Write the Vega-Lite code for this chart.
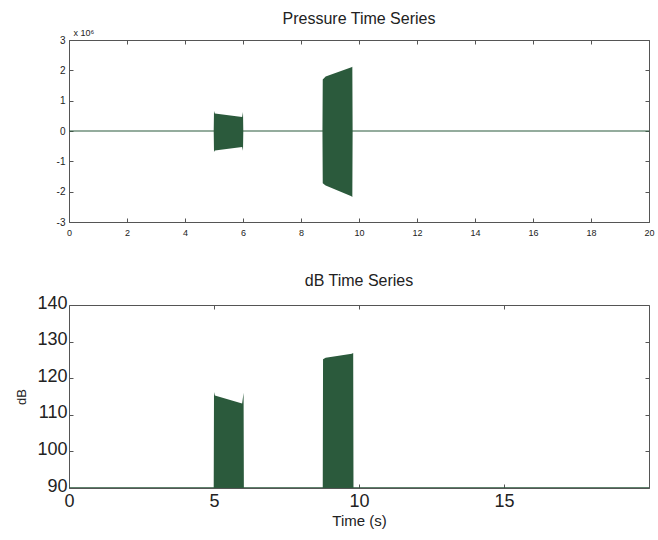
{
  "$schema": "https://vega.github.io/schema/vega-lite/v6.json",
  "padding": {"left": 15, "top": 11, "right": 8, "bottom": 3},
  "background": "white",
  "config": {
    "font": "Liberation Sans",
    "view": {"stroke": null},
    "axis": {"grid": false, "domainColor": "#555555", "tickColor": "#555555", "labelColor": "#222222", "titleColor": "#222222", "titleFontWeight": "normal", "labelFont": "Liberation Sans", "titleFont": "Liberation Sans"},
    "title": {"font": "Liberation Sans", "fontWeight": "normal", "color": "#222222"}
  },
  "datasets": {
    "pressure": [
      {"t": 0, "hi": 20000, "lo": -20000},
      {"t": 4.99, "hi": 20000, "lo": -20000},
      {"t": 5.0, "hi": 660000, "lo": -690000},
      {"t": 5.03, "hi": 580000, "lo": -640000},
      {"t": 5.97, "hi": 460000, "lo": -530000},
      {"t": 6.0, "hi": 630000, "lo": -650000},
      {"t": 6.01, "hi": 20000, "lo": -20000},
      {"t": 8.74, "hi": 20000, "lo": -20000},
      {"t": 8.75, "hi": 1700000, "lo": -1720000},
      {"t": 8.85, "hi": 1800000, "lo": -1800000},
      {"t": 9.74, "hi": 2100000, "lo": -2150000},
      {"t": 9.77, "hi": 2120000, "lo": -2180000},
      {"t": 9.78, "hi": 20000, "lo": -20000},
      {"t": 20, "hi": 20000, "lo": -20000}
    ],
    "db": [
      {"t": 0, "db": 90.2},
      {"t": 4.99, "db": 90.2},
      {"t": 5.0, "db": 116.2},
      {"t": 5.03, "db": 115.3},
      {"t": 5.97, "db": 113.1},
      {"t": 6.02, "db": 116.0},
      {"t": 6.03, "db": 90.2},
      {"t": 8.75, "db": 90.2},
      {"t": 8.76, "db": 125.2},
      {"t": 8.85, "db": 125.6},
      {"t": 9.75, "db": 126.7},
      {"t": 9.8, "db": 126.9},
      {"t": 9.81, "db": 90.2},
      {"t": 20, "db": 90.2}
    ]
  },
  "bounds": "flush",
  "spacing": 83,
  "vconcat": [
    {
      "title": {"text": "Pressure Time Series", "fontSize": 16, "offset": 1},
      "width": 580,
      "height": 182,
      "data": {"name": "pressure"},
      "layer": [
        {
          "mark": {"type": "area", "color": "#2b5a3c"},
          "encoding": {
            "x": {"field": "t", "type": "quantitative", "scale": {"domain": [0, 20], "nice": false, "zero": false},
              "axis": {"orient": "bottom", "values": [0, 2, 4, 6, 8, 10, 12, 14, 16, 18, 20], "labelFontSize": 9, "tickSize": -4, "labelPadding": 10, "title": null, "labelFlush": false}},
            "y": {"field": "hi", "type": "quantitative", "scale": {"domain": [-3000000, 3000000], "nice": false},
              "axis": {"orient": "left", "values": [-3000000, -2000000, -1000000, 0, 1000000, 2000000, 3000000], "labelExpr": "replace(format(datum.value/1000000, 'd'), '\u2212', '-')", "labelFontSize": 10, "tickSize": -4, "labelPadding": 8,
                "title": "x 10\u2076", "titleAngle": 0, "titleAlign": "left", "titleBaseline": "bottom", "titleX": 4, "titleY": -3, "titleFontSize": 9}},
            "y2": {"field": "lo"}
          }
        },
        {
          "mark": {"type": "area", "opacity": 0},
          "encoding": {
            "x": {"field": "t", "type": "quantitative",
              "axis": {"orient": "top", "values": [0, 2, 4, 6, 8, 10, 12, 14, 16, 18, 20], "labels": false, "tickSize": -4, "title": null}},
            "y": {"field": "hi", "type": "quantitative",
              "axis": {"orient": "right", "values": [-3000000, -2000000, -1000000, 0, 1000000, 2000000, 3000000], "labels": false, "tickSize": -4, "title": null}},
            "y2": {"field": "lo"}
          }
        }
      ],
      "resolve": {"axis": {"x": "independent", "y": "independent"}}
    },
    {
      "title": {"text": "dB Time Series", "fontSize": 16, "offset": 5},
      "width": 580,
      "height": 183,
      "data": {"name": "db"},
      "layer": [
        {
          "mark": {"type": "area", "color": "#2b5a3c", "clip": true},
          "encoding": {
            "x": {"field": "t", "type": "quantitative", "scale": {"domain": [0, 20], "nice": false, "zero": false},
              "axis": {"orient": "bottom", "values": [0, 5, 10, 15], "labelFontSize": 18, "tickSize": -4, "labelPadding": 8, "title": "Time (s)", "titleFontSize": 15, "titlePadding": 3, "labelFlush": false}},
            "y": {"field": "db", "type": "quantitative", "scale": {"domain": [90, 140], "nice": false, "zero": false},
              "axis": {"orient": "left", "values": [90, 100, 110, 120, 130, 140], "labelFontSize": 18, "tickSize": -4, "labelPadding": 6, "labelOffset": -2, "title": "dB", "titleFontSize": 13, "titlePadding": 8}},
            "y2": {"datum": 90}
          }
        },
        {
          "mark": {"type": "area", "opacity": 0},
          "encoding": {
            "x": {"field": "t", "type": "quantitative",
              "axis": {"orient": "top", "values": [0, 5, 10, 15], "labels": false, "tickSize": -4, "title": null}},
            "y": {"field": "db", "type": "quantitative",
              "axis": {"orient": "right", "values": [90, 100, 110, 120, 130, 140], "labels": false, "tickSize": -4, "title": null}},
            "y2": {"datum": 90}
          }
        }
      ],
      "resolve": {"axis": {"x": "independent", "y": "independent"}}
    }
  ]
}
